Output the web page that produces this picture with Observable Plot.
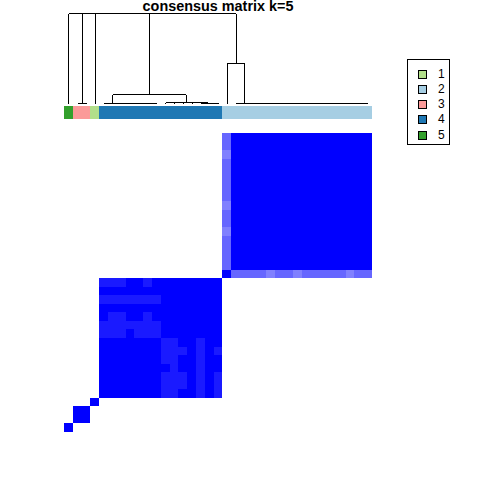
<!DOCTYPE html>
<html><head><meta charset="utf-8">
<script src="https://cdn.jsdelivr.net/npm/d3@7"></script>
<script src="https://cdn.jsdelivr.net/npm/@observablehq/plot@0.6"></script>
<style>
html,body{margin:0;padding:0;background:#fff;}
#chart{position:relative;width:480px;height:480px;overflow:hidden;font-family:"Liberation Sans",Arial,sans-serif;}
#chart svg{position:absolute;left:0;}
.title{position:absolute;left:0;width:436px;text-align:center;font-weight:bold;font-size:14.4px;line-height:13px;top:0px;white-space:nowrap;}
.legend{position:absolute;left:407px;top:59px;width:43px;height:86px;border:1px solid #000;box-sizing:border-box;}
.li{position:absolute;left:10px;height:9px;}
.sw{position:absolute;left:0;top:0;width:9px;height:9px;border:1px solid #000;box-sizing:border-box;}
.lt{position:absolute;left:20px;top:-2px;font-size:12px;line-height:13px;}
</style></head><body><div id="chart"></div>
<script>
const title = "consensus matrix k=5";
const clusterLabels = ["1","2","3","4","5"];
const clusterColors = ["#b2df8a","#a6cee3","#fb9a99","#1f78b4","#33a02c"];
// cluster of each sample, in dendrogram (left-to-right) order
const sampleCluster = ["5","3","3","1","4","4","4","4","4","4","4","4","4","4","4","4","4","4",
  "2","2","2","2","2","2","2","2","2","2","2","2","2","2","2","2","2"];
// consensus values per sample row (groups separated by "|"): 0=0, 5=0.5, 6=0.6, 9=0.9, X=1
const consensusRows = [
"X|00|0|0000000|0000000|0|0000000000000000",
"0|XX|0|0000000|0000000|0|0000000000000000",
"0|XX|0|0000000|0000000|0|0000000000000000",
"0|00|X|0000000|0000000|0|0000000000000000",
"0|00|0|XXXXXXX|99XX9X9|0|0000000000000000",
"0|00|0|XXXXXXX|999X9X9|0|0000000000000000",
"0|00|0|XXXXXXX|999X9X9|0|0000000000000000",
"0|00|0|XXXXXXX|X9XX9XX|0|0000000000000000",
"0|00|0|XXXXXXX|99XX9XX|0|0000000000000000",
"0|00|0|XXXXXXX|999X9X9|0|0000000000000000",
"0|00|0|XXXXXXX|99XX9XX|0|0000000000000000",
"0|00|0|999X999|XXXXXXX|0|0000000000000000",
"0|00|0|9999999|XXXXXXX|0|0000000000000000",
"0|00|0|X99XX9X|XXXXXXX|0|0000000000000000",
"0|00|0|XXXXXXX|XXXXXXX|0|0000000000000000",
"0|00|0|9999999|XXXXXXX|0|0000000000000000",
"0|00|0|XXXXXXX|XXXXXXX|0|0000000000000000",
"0|00|0|999XX9X|XXXXXXX|0|0000000000000000",
"0|00|0|0000000|0000000|X|6666566566666566",
"0|00|0|0000000|0000000|6|XXXXXXXXXXXXXXXX",
"0|00|0|0000000|0000000|6|XXXXXXXXXXXXXXXX",
"0|00|0|0000000|0000000|6|XXXXXXXXXXXXXXXX",
"0|00|0|0000000|0000000|6|XXXXXXXXXXXXXXXX",
"0|00|0|0000000|0000000|5|XXXXXXXXXXXXXXXX",
"0|00|0|0000000|0000000|6|XXXXXXXXXXXXXXXX",
"0|00|0|0000000|0000000|6|XXXXXXXXXXXXXXXX",
"0|00|0|0000000|0000000|5|XXXXXXXXXXXXXXXX",
"0|00|0|0000000|0000000|6|XXXXXXXXXXXXXXXX",
"0|00|0|0000000|0000000|6|XXXXXXXXXXXXXXXX",
"0|00|0|0000000|0000000|6|XXXXXXXXXXXXXXXX",
"0|00|0|0000000|0000000|6|XXXXXXXXXXXXXXXX",
"0|00|0|0000000|0000000|6|XXXXXXXXXXXXXXXX",
"0|00|0|0000000|0000000|5|XXXXXXXXXXXXXXXX",
"0|00|0|0000000|0000000|6|XXXXXXXXXXXXXXXX",
"0|00|0|0000000|0000000|6|XXXXXXXXXXXXXXXX"
];
const levelValues = {"0":0,"5":0.5,"6":0.6,"9":0.9,"X":1};
// hierarchical clustering merges (L# = leaf, M# = earlier merge, 1-based)
const mergeLeft  = ["L1","L9","L8","L7","L6","L5","L4","L12","L11","L16","L15","L14","M9","M7",
  "L33","L32","L31","L30","L29","L28","L27","L26","L25","L24","L23","L22","L21","L20","L19","L18",
  "M14","L3","M1","L0"];
const mergeRight = ["L2","L10","M2","M3","M4","M5","M6","L13","M8","L17","M10","M11","M12","M13",
  "L34","M15","M16","M17","M18","M19","M20","M21","M22","M23","M24","M25","M26","M27","M28","M29",
  "M30","M31","M32","M33"];
const mergeHeight = [0,0,0,0,0,0,0,0.01,0.01,0,0,0.01,0.016,0.1,
  0,0,0,0,0,0,0,0,0,0,0,0,0,0,0,0.444,
  1,1,1,1];

const n = sampleCluster.length;
const X0 = 64, X1 = 372;

// heatmap cells
const cells = [];
consensusRows.forEach((row, i) => {
  row.replace(/\|/g, "").split("").forEach((c, j) => {
    const v = levelValues[c];
    if (v > 0) cells.push({i, j, v});
  });
});

// dendrogram segments
const nodes = [];
function pos(ref) {
  const k = +ref.slice(1);
  return ref[0] === "L" ? {x: k + 0.5, h: 0} : nodes[k - 1];
}
const segs = [];
mergeLeft.forEach((l, k) => {
  const a = pos(l), b = pos(mergeRight[k]), h = mergeHeight[k];
  segs.push({x1: a.x, y1: h, x2: b.x, y2: h});
  if (h > a.h) segs.push({x1: a.x, y1: h, x2: a.x, y2: a.h});
  if (h > b.h) segs.push({x1: b.x, y1: h, x2: b.x, y2: b.h});
  nodes.push({x: (a.x + b.x) / 2, h});
});

const chart = document.getElementById("chart");

const dendro = Plot.plot({
  width: 480, height: 120,
  marginLeft: X0, marginRight: 480 - X1, marginTop: 13.3, marginBottom: 16.7,
  x: {domain: [0, n], axis: null},
  y: {domain: [0, 1], axis: null},
  marks: [
    Plot.link(segs, {x1: "x1", y1: "y1", x2: "x2", y2: "y2", stroke: "black", strokeWidth: 1, shapeRendering: "crispEdges"})
  ]
});
dendro.style.top = "0px";
chart.appendChild(dendro);

const samples = sampleCluster.map((c, i) => ({i, c}));
const bar = Plot.plot({
  width: 480, height: 13.5,
  marginLeft: X0, marginRight: 480 - X1, marginTop: 0, marginBottom: 0,
  x: {domain: [0, n], axis: null},
  color: {domain: clusterLabels, range: clusterColors},
  marks: [
    Plot.rect(samples, {x1: "i", x2: d => d.i + 1, fill: "c", shapeRendering: "crispEdges"})
  ]
});
bar.style.top = "105.7px";
chart.appendChild(bar);

const heat = Plot.plot({
  width: 480, height: 480,
  marginLeft: X0, marginRight: 480 - X1, marginTop: 133, marginBottom: 48,
  x: {domain: [0, n], axis: null},
  y: {domain: [0, n], axis: null},
  color: {type: "linear", domain: [0, 1], range: ["white", "blue"], interpolate: "rgb"},
  marks: [
    Plot.rect(cells, {x1: "j", x2: d => d.j + 1, y1: "i", y2: d => d.i + 1, fill: "v", shapeRendering: "crispEdges"})
  ]
});
heat.style.top = "0px";
chart.appendChild(heat);

const t = document.createElement("div");
t.className = "title"; t.textContent = title;
chart.appendChild(t);

const lg = document.createElement("div");
lg.className = "legend";
clusterLabels.forEach((lab, k) => {
  const it = document.createElement("div");
  it.className = "li"; it.style.top = (9.5 + k * 15.3) + "px";
  const sw = document.createElement("div"); sw.className = "sw"; sw.style.background = clusterColors[k];
  const tx = document.createElement("div"); tx.className = "lt"; tx.textContent = lab;
  it.appendChild(sw); it.appendChild(tx); lg.appendChild(it);
});
chart.appendChild(lg);
</script></body></html>
